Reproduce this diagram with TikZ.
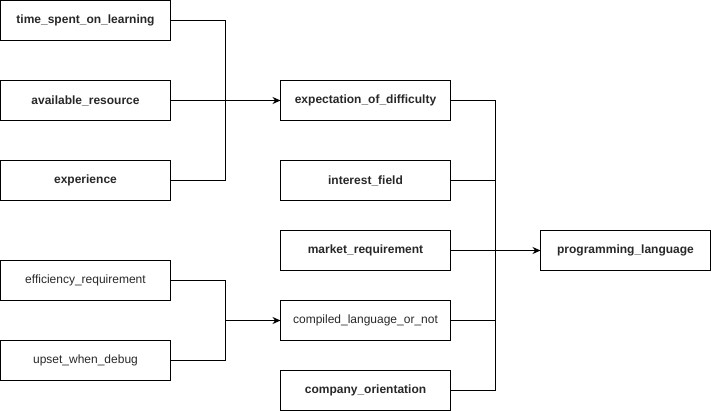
\documentclass[tikz,border=0pt]{standalone}
\usepackage{fontspec}
\setmainfont{Liberation Sans}
\usetikzlibrary{arrows.meta,positioning}
\definecolor{txtgray}{RGB}{40,40,40}
\begin{document}
\begin{tikzpicture}[x=1pt, y=1pt, node distance=40pt and 110pt, every node/.style={font=\fontsize{12}{14}\selectfont, text=txtgray}, box/.style={draw, line width=1pt, outer sep=0pt, minimum width=170pt, minimum height=40pt, inner sep=0pt, font=\fontsize{12}{14}\selectfont\bfseries}, plain/.style={box, font=\fontsize{12}{14}\selectfont}, arr/.style={-{Stealth[length=8pt,width=7pt]}, line width=1pt}, line/.style={line width=1pt}]
\useasboundingbox (-0.5,0.5) rectangle (710.5,-410.5);
% first group
\node[box] (time) at (85,-20) {time\_spent\_on\_learning};
\node[box,below=of time] (avail) {available\_resource};
\node[box,below=of avail] (exper) {experience};
\node[plain,below=60pt of exper] (effic) {efficiency\_requirement};
\node[plain,below=of effic] (upset) {upset\_when\_debug};
% second group
\node[box,right=of avail] (expect) {expectation\_of\_difficulty};
\node[box,right=of exper] (interest) {interest\_field};
\node[box,below=30pt of interest] (market) {market\_requirement};
\node[plain,below=30pt of market] (compiled) {compiled\_language\_or\_not};
\node[box,below=30pt of compiled] (company) {company\_orientation};
\node[box,right=90pt of market] (prog) {programming\_language};
% junctions
\coordinate (j1) at (225,-100);
\coordinate (j2) at (225,-320);
\coordinate (j3) at (495,-250);
\draw[line] (time.east) -| (j1);
\draw[line] (exper.east) -| (j1);
\draw[arr] (avail.east) -- (expect.west);
\draw[line] (effic.east) -| (j2);
\draw[line] (upset.east) -| (j2);
\draw[arr] (j2) -- (compiled.west);
\draw[line] (expect.east) -| (j3);
\draw[line] (interest.east) -| (j3);
\draw[line] (compiled.east) -| (j3);
\draw[line] (company.east) -| (j3);
\draw[arr] (market.east) -- (prog.west);
\end{tikzpicture}
\end{document}
